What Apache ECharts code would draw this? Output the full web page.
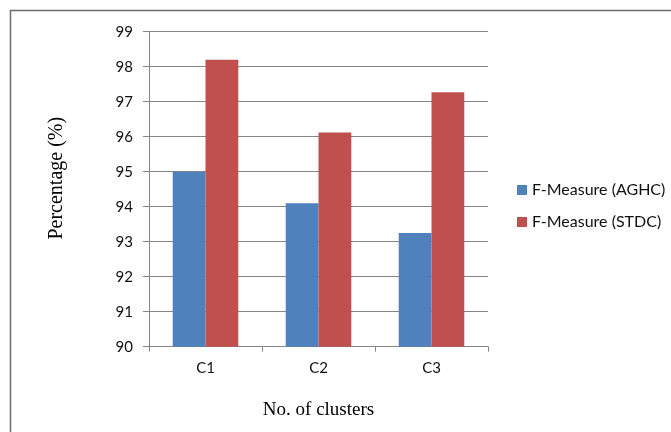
<!DOCTYPE html>
<html>
<head>
<meta charset="utf-8">
<script src="https://cdn.jsdelivr.net/npm/echarts@6/dist/echarts.min.js"></script>
<style>html,body{margin:0;padding:0;background:#fff}#c{width:671px;height:432px}</style>
</head>
<body>
<div id="c"></div>
<script>
const categories = ['C1', 'C2', 'C3'];
const aghc = [95.0, 94.1, 93.25];
const stdc = [98.2, 96.12, 97.27];
const seriesNames = ['F-Measure (AGHC)', 'F-Measure (STDC)'];
const yTicks = { min: 90, max: 99, interval: 1 };

const chart = echarts.init(document.getElementById('c'), null, { renderer: 'canvas' });
const sans = 'Lato, "Open Sans", sans-serif';
const serif = '"Liberation Serif", "DejaVu Serif", serif';
chart.setOption({
  animation: false,
  backgroundColor: '#fff',
  graphic: [{
    type: 'rect', left: 8, top: 8, z: 100,
    shape: { x: 0, y: 0, width: 700, height: 500 },
    style: { fill: null, stroke: '#6b6b6b', lineWidth: 1.5 }
  }],
  grid: { left: 149, right: 183, top: 31.7, bottom: 85.3, containLabel: false },
  legend: {
    orient: 'vertical', left: 512, top: 177,
    itemWidth: 10, itemHeight: 10, itemGap: 16,
    icon: 'rect',
    textStyle: { fontFamily: sans, fontSize: 16, color: '#111' },
    data: seriesNames
  },
  xAxis: {
    type: 'category', data: categories,
    name: 'No. of clusters', nameLocation: 'middle', nameGap: 54,
    nameTextStyle: { fontFamily: serif, fontSize: 19, color: '#000' },
    axisLine: { lineStyle: { color: '#868686', width: 1 } },
    axisTick: { show: true, length: 5, lineStyle: { color: '#868686' } },
    axisLabel: { fontFamily: sans, fontSize: 15, color: '#111', margin: 14 }
  },
  yAxis: {
    type: 'value', min: yTicks.min, max: yTicks.max, interval: yTicks.interval,
    name: 'Percentage (%)', nameLocation: 'middle', nameGap: 82, nameRotate: 90,
    nameTextStyle: { fontFamily: serif, fontSize: 20, color: '#000', padding: [0, 0, 0, 22] },
    axisLine: { show: true, lineStyle: { color: '#868686', width: 1 } },
    axisTick: { show: true, length: 6, lineStyle: { color: '#868686' } },
    axisLabel: { fontFamily: sans, fontSize: 15, color: '#111', margin: 16 },
    splitLine: { show: true, lineStyle: { color: '#868686', width: 1 } }
  },
  series: [
    { name: seriesNames[0], type: 'bar', data: aghc, barGap: '0%', barCategoryGap: '42%',
      itemStyle: { color: '#4F81BD' } },
    { name: seriesNames[1], type: 'bar', data: stdc, barGap: '0%', barCategoryGap: '42%',
      itemStyle: { color: '#C0504D' } }
  ]
});
</script>
</body>
</html>
